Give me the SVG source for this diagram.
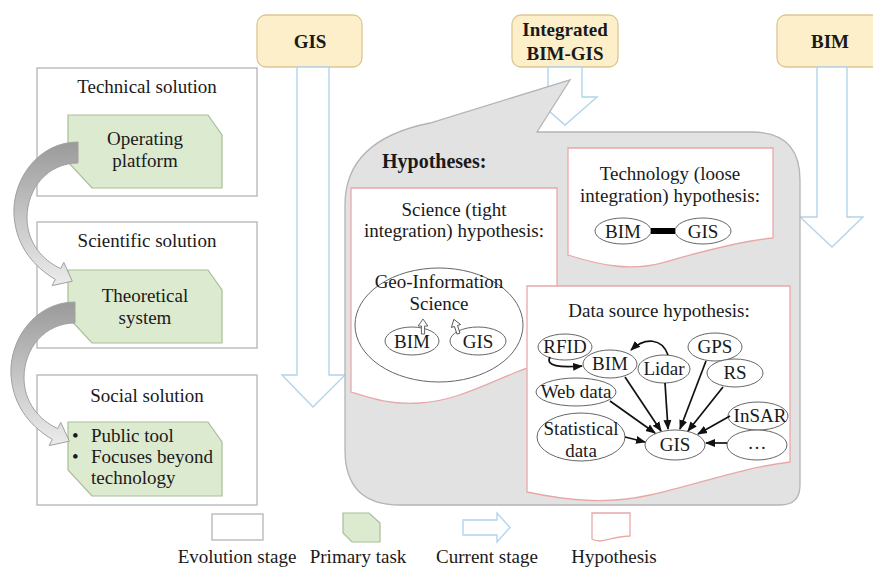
<svg xmlns="http://www.w3.org/2000/svg" width="873" height="568" viewBox="0 0 873 568">
  <style>
    text { font-family: "Liberation Serif", "Times New Roman", serif; font-size: 19px; fill: #1a1a1a; }
    .c { text-anchor: middle; }
    .b { font-weight: bold; }
    .stage { fill: #ffffff; stroke: #b4b4b4; stroke-width: 1.3; }
    .task { fill: #dcead0; stroke: #a9bf98; stroke-width: 1.2; }
    .head { fill: #fcefca; stroke: #dcc794; stroke-width: 1.3; }
    .cur { fill: #ffffff; stroke: #b3d4ea; stroke-width: 1.4; }
    .hyp { fill: #ffffff; stroke: #e8a8a8; stroke-width: 1.3; }
    .ell { fill: #ffffff; stroke: #666; stroke-width: 1; }
    .edge { fill: none; stroke: #111; stroke-width: 1.7; marker-end: url(#ah); }
    .swoop { fill: url(#swoopGrad); stroke: #a0a0a0; stroke-width: 1; }
  </style>
  <defs>
    <marker id="ah" viewBox="0 0 10 10" refX="9" refY="5" markerWidth="10" markerHeight="10" markerUnits="userSpaceOnUse" orient="auto">
      <path d="M0,1 L10,5 L0,9 Z" fill="#111"/>
    </marker>
    <linearGradient id="swoopGrad" x1="0" y1="0" x2="0" y2="1">
      <stop offset="0" stop-color="#9a9a9a"/>
      <stop offset="0.55" stop-color="#c8c8c8"/>
      <stop offset="1" stop-color="#ececec"/>
    </linearGradient>
    <path id="upArrow" d="M-1.6,8 L-1.6,0 L-4.8,0 L0,-7 L4.8,0 L1.6,0 L1.6,8 Z"/>
    <!-- curved block arrow linking one primary task to the next -->
    <path id="swoopShape" d="M78,142 C38,142 12,180 14,215 C16,248 36,268 55.3,279.4 L52.2,285.6 L72.3,281.2 L63.8,262.4 L60.7,268.6 C42,260 27,242 27,218 C27,188 48,163 78,163 Z"/>
  </defs>

  <!-- column headers -->
  <g id="gis-header">
    <rect class="head" x="257" y="15" width="105" height="52" rx="9"/>
    <text class="c b" x="310" y="48">GIS</text>
  </g>
  <g id="integrated-header">
    <rect class="head" x="512" y="15" width="106" height="52" rx="9"/>
    <text class="c b" x="565" y="36">Integrated</text>
    <text class="c b" x="565" y="60">BIM-GIS</text>
  </g>
  <g id="bim-header">
    <rect class="head" x="777" y="15" width="106" height="52" rx="9"/>
    <text class="c b" x="830" y="48">BIM</text>
  </g>

  <!-- current-stage arrows under each header -->
  <g id="stage-arrows">
    <path class="cur" d="M297,67 L329,67 L329,375 L345,375 L313,407 L282,375 L297,375 Z"/>
    <path class="cur" d="M548,67 L582,67 L582,97 L597,97 L565,125 L533,97 L548,97 Z"/>
    <path class="cur" d="M817,67 L847,67 L847,217 L863,217 L832,247 L800,217 L817,217 Z"/>
  </g>

  <!-- evolution stages -->
  <g id="technical-solution">
    <rect class="stage" x="37" y="68" width="220" height="128"/>
    <text class="c" x="147" y="93">Technical solution</text>
    <path class="task" d="M68,115 L208,115 L222,135 L222,188 L92,188 L68,162 Z"/>
    <text class="c" x="145" y="145">Operating</text>
    <text class="c" x="145" y="167">platform</text>
  </g>
  <g id="scientific-solution">
    <rect class="stage" x="37" y="222" width="220" height="126"/>
    <text class="c" x="147" y="247">Scientific solution</text>
    <path class="task" d="M68,270 L208,270 L222,290 L222,343 L92,343 L68,317 Z"/>
    <text class="c" x="145" y="302">Theoretical</text>
    <text class="c" x="145" y="324">system</text>
  </g>
  <g id="social-solution">
    <rect class="stage" x="37" y="375" width="220" height="130"/>
    <text class="c" x="147" y="402">Social solution</text>
    <path class="task" d="M68,422 L208,422 L222,442 L222,496 L92,496 L68,470 Z"/>
    <text x="72" y="442">•</text>
    <text x="91" y="442">Public tool</text>
    <text x="72" y="463">•</text>
    <text x="91" y="463">Focuses beyond</text>
    <text x="91" y="484">technology</text>
  </g>

  <!-- hypotheses callout -->
  <g id="hypotheses">
    <path d="M570,80 L537,132 L752,132 Q800,132 800,180 L800,485 Q800,505 780,505 L400,505 Q345,505 345,450 L345,205 Q345,140 430,123 Z" fill="#e2e2e2" stroke="#b4b4b4" stroke-width="1.3"/>
    <text class="b" x="382" y="168" style="font-size:20px">Hypotheses:</text>
  </g>

  <g id="science-hypothesis">
    <path class="hyp" d="M351,188 L557,188 L557,360 C510,368 470,400 420,403 C390,405 370,398 351,392 Z"/>
    <text class="c" x="454" y="216">Science (tight</text>
    <text class="c" x="454" y="237">integration) hypothesis:</text>
    <ellipse class="ell" cx="439" cy="325" rx="84" ry="57"/>
    <text class="c" x="439" y="288">Geo-Information</text>
    <text class="c" x="439" y="310">Science</text>
    <ellipse class="ell" cx="412" cy="341" rx="27" ry="14"/>
    <text class="c" x="412" y="348">BIM</text>
    <ellipse class="ell" cx="478" cy="341" rx="28" ry="14"/>
    <text class="c" x="478" y="348">GIS</text>
    <use href="#upArrow" transform="translate(423,326)" fill="#fff" stroke="#555" stroke-width="0.9"/>
    <use href="#upArrow" transform="translate(456,326) rotate(-18)" fill="#fff" stroke="#555" stroke-width="0.9"/>
  </g>

  <g id="technology-hypothesis">
    <path class="hyp" d="M568,148 L773,148 L773,238 C740,241 700,252 665,262 C630,272 600,265 568,255 Z"/>
    <text class="c" x="670" y="180">Technology (loose</text>
    <text class="c" x="670" y="202">integration) hypothesis:</text>
    <ellipse class="ell" cx="623" cy="231" rx="28" ry="13"/>
    <text class="c" x="623" y="238">BIM</text>
    <ellipse class="ell" cx="703" cy="231" rx="28" ry="13"/>
    <text class="c" x="703" y="238">GIS</text>
  </g>

  <g id="data-source-hypothesis">
    <path class="hyp" d="M527,286 L790,286 L790,462 C740,468 700,484 650,495 C605,505 565,500 527,492 Z"/>
    <text class="c" x="659" y="317">Data source hypothesis:</text>
  </g>

  <!-- data source nodes -->
  <g id="ds-rfid"><ellipse class="ell" cx="565" cy="347" rx="27" ry="13"/><text class="c" x="565" y="353">RFID</text></g>
  <g id="ds-bim"><ellipse class="ell" cx="610" cy="364" rx="27" ry="14"/><text class="c" x="610" y="370">BIM</text></g>
  <g id="ds-lidar"><ellipse class="ell" cx="664" cy="369" rx="26" ry="14"/><text class="c" x="664" y="375">Lidar</text></g>
  <g id="ds-gps"><ellipse class="ell" cx="715" cy="347" rx="27" ry="14"/><text class="c" x="715" y="353">GPS</text></g>
  <g id="ds-rs"><ellipse class="ell" cx="735" cy="373" rx="28" ry="14"/><text class="c" x="735" y="379">RS</text></g>
  <g id="ds-web"><ellipse class="ell" cx="576" cy="392" rx="40" ry="14"/><text class="c" x="576" y="398">Web data</text></g>
  <g id="ds-insar"><ellipse class="ell" cx="758" cy="416" rx="30" ry="14"/><text class="c" x="760" y="422">InSAR</text></g>
  <g id="ds-stat"><ellipse class="ell" cx="581" cy="437" rx="44" ry="24"/><text class="c" x="581" y="435">Statistical</text><text class="c" x="581" y="457">data</text></g>
  <g id="ds-gis"><ellipse class="ell" cx="675" cy="445" rx="30" ry="15"/><text class="c" x="675" y="451">GIS</text></g>
  <g id="ds-more"><ellipse class="ell" cx="757" cy="445" rx="30" ry="15"/><text class="c" x="757" y="449">…</text></g>

  <!-- connectors -->
  <g id="connectors">
    <use href="#swoopShape" class="swoop"/>
    <use href="#swoopShape" class="swoop" transform="translate(-3,160)"/>
    <line x1="651" y1="231" x2="675" y2="231" stroke="#000" stroke-width="6"/>
    <path class="edge" d="M550,357 C545,366 560,368 582,366"/>
    <path class="edge" d="M668,355 C662,338 645,337 631,350"/>
    <path class="edge" d="M625,377 L661,431"/>
    <path class="edge" d="M665,383 L668,429"/>
    <path class="edge" d="M706,361 L680,429"/>
    <path class="edge" d="M723,387 L688,431"/>
    <path class="edge" d="M730,416 L698,434"/>
    <path class="edge" d="M727,443 L706,443"/>
    <path class="edge" d="M610,401 L655,433"/>
    <path class="edge" d="M625,437 L645,442"/>
  </g>

  <!-- legend -->
  <g id="legend">
    <rect class="stage" x="212" y="514" width="51" height="26"/>
    <text class="c" x="237" y="563">Evolution stage</text>
    <path class="task" d="M343,513 L369,513 L380,523 L380,542 L352,542 L343,533 Z"/>
    <text class="c" x="358" y="563">Primary task</text>
    <path class="cur" d="M463,520 L497,520 L497,513 L510,527.5 L497,542 L497,535 L463,535 Z"/>
    <text class="c" x="487" y="563">Current stage</text>
    <path class="hyp" d="M592,513 L630,513 L630,536 C618,536 610,540 600,541 C596,541 594,540 592,539 Z"/>
    <text class="c" x="614" y="563">Hypothesis</text>
  </g>
</svg>
